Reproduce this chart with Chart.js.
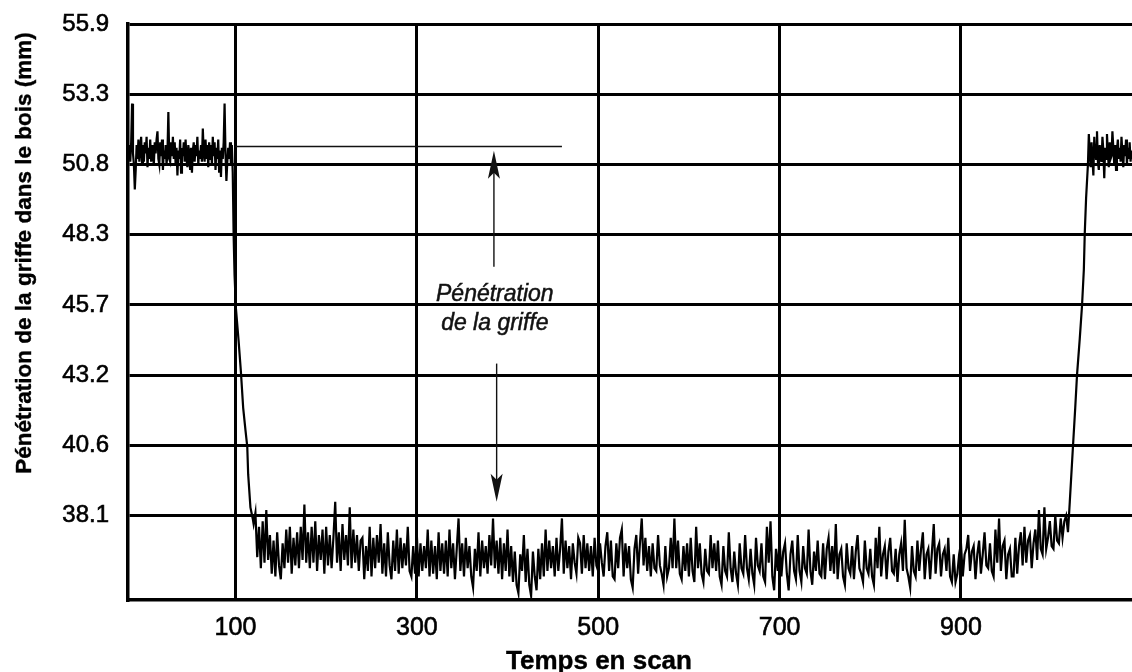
<!DOCTYPE html>
<html>
<head>
<meta charset="utf-8">
<script src="https://cdn.jsdelivr.net/npm/chart.js@4.4.0/dist/chart.umd.min.js"></script>
<style>
  html, body { margin: 0; padding: 0; background: #fff; }
  #wrap { position: relative; width: 1132px; height: 672px; }
</style>
</head>
<body>
<div id="wrap"><canvas id="myChart"></canvas></div>
<script>
'use strict'

// tick labels
const xTicks = [100, 300, 500, 700, 900];
const yTicks = [38.1, 40.64, 43.18, 45.72, 48.26, 50.8, 53.34, 55.88];
const yTickLabels = ['38.1', '40.6', '43.2', '45.7', '48.3', '50.8', '53.3', '55.9'];

// claw up, before entering the wood (scan -18 .. 96, one per scan)
const leftPlateau = [
  51.0, 51.5, 50.9, 51.6, 53.0, 51.2, 50.8, 49.9, 50.6, 51.5,
  51.0, 51.7, 50.9, 51.4, 51.8, 50.8, 51.5, 50.9, 51.6, 51.2,
  51.8, 50.7, 51.4, 51.0, 51.7, 50.9, 51.5, 51.1, 50.8, 51.6,
  51.2, 51.7, 52.0, 51.0, 50.8, 51.6, 51.1, 51.7, 50.6, 51.3,
  51.0, 51.5, 50.8, 51.2, 52.7, 51.0, 50.9, 51.6, 51.1, 51.8,
  51.0, 51.6, 50.8, 51.4, 50.4, 51.3, 51.0, 51.7, 50.5, 51.4,
  51.1, 51.6, 50.9, 51.7, 51.0, 50.7, 51.5, 51.2, 50.6, 51.4,
  50.5, 51.3, 51.6, 50.9, 51.5, 51.1, 51.8, 50.8, 51.3, 51.0,
  51.5, 50.9, 52.1, 51.2, 50.9, 51.7, 51.0, 51.5, 50.7, 51.6,
  51.0, 51.5, 50.8, 51.8, 51.1, 51.6, 50.6, 51.4, 51.0, 51.7,
  50.5, 51.3, 50.35, 51.4, 51.0, 51.6, 53.0, 51.2, 50.2, 50.9,
  51.4, 51.0, 51.6, 50.8, 51.5
];

// the drop
const dropScans  = [97, 98, 99, 100.5, 103.5, 106, 108.5, 111, 113, 114, 116.5, 119];
const dropValues = [50.5, 48.2, 46.8, 45.6, 44.4, 43.3, 42.0, 41.2, 40.6, 39.6, 38.4, 38.0];

// claw in the wood (scan 120 .. 1018, every 2 scans)
const floorValues = [
  37.8, 38.2, 36.6, 37.7, 36.2, 37.9, 36.4, 38.3, 36.5, 37.4, 36.0, 37.2, 35.9, 37.5, 36.3,
  35.8, 37.1, 36.2, 37.6, 36.4, 37.7, 36.0, 37.3, 36.3, 37.5, 36.2, 37.7, 36.5, 38.5, 36.4,
  37.5, 36.2, 37.7, 36.4, 37.9, 36.1, 37.4, 36.5, 37.6, 36.0, 37.7, 36.3, 37.4, 36.2, 37.3,
  38.6, 36.4, 37.5, 36.1, 37.8, 36.5, 37.4, 36.3, 38.4, 36.2, 37.6, 36.4, 37.4, 36.1, 37.2,
  37.3, 35.8, 37.0, 36.1, 37.7, 35.9, 37.3, 36.2, 37.4, 36.4, 37.8, 36.0, 37.1, 35.9, 37.5,
  36.3, 35.8, 37.2, 36.1, 37.6, 36.0, 37.3, 36.2, 37.1, 36.3, 37.7, 36.1, 35.9, 37.0, 36.0,
  37.4, 35.9, 37.1, 36.1, 37.0, 36.2, 37.6, 35.9, 37.2, 36.0, 37.0, 35.8, 37.5, 36.1, 37.1,
  36.0, 37.2, 35.9, 37.6, 36.2, 37.1, 35.8, 36.9, 38.0, 36.1, 37.1, 35.9, 37.3, 36.2, 37.0,
  35.9, 35.5, 36.9, 36.1, 37.5, 35.9, 37.2, 36.2, 37.0, 36.0, 37.4, 36.3, 38.0, 36.2, 37.2,
  36.0, 37.3, 35.8, 37.1, 36.1, 37.6, 35.9, 37.0, 35.7, 36.8, 35.6, 35.3, 36.7, 36.1, 37.4,
  35.7, 36.9, 35.6, 35.2, 36.8, 35.9, 35.4, 36.9, 35.8, 37.1, 35.9, 37.6, 36.1, 37.2, 36.2,
  37.0, 35.9, 37.3, 36.1, 36.9, 38.0, 36.0, 37.2, 36.2, 37.0, 35.8, 37.1, 36.4, 36.0, 37.3,
  37.1, 36.0, 37.4, 36.2, 37.1, 36.1, 37.0, 35.9, 37.3, 36.3, 36.1, 37.1, 36.4, 35.9, 37.0,
  37.5, 36.1, 37.2, 35.9, 35.8, 37.1, 36.2, 37.3, 37.6, 35.9, 37.1, 36.2, 37.0, 35.8, 35.5,
  36.9, 37.4, 36.0, 37.1, 38.0, 36.3, 37.3, 36.1, 37.0, 35.9, 37.1, 36.2, 36.1, 37.4, 36.3,
  36.0, 35.6, 37.0, 35.9, 36.2, 37.3, 36.2, 38.0, 36.2, 37.2, 36.0, 35.8, 37.0, 36.1, 37.1,
  35.9, 37.3, 36.1, 35.7, 37.7, 36.2, 37.1, 36.0, 35.7, 36.9, 36.1, 36.0, 37.4, 36.2, 37.1,
  36.1, 37.2, 35.9, 35.6, 37.0, 36.1, 35.9, 37.5, 36.2, 35.7, 36.8, 36.0, 35.6, 37.1, 36.2,
  36.0, 37.4, 36.2, 35.8, 36.9, 36.0, 35.6, 37.3, 36.3, 36.1, 37.1, 35.9, 35.7, 37.7, 36.4,
  37.9, 35.9, 35.4, 36.9, 36.1, 37.3, 35.9, 36.8, 37.1, 36.0, 35.4, 36.7, 37.2, 36.1, 35.8,
  37.4, 36.1, 35.7, 37.0, 36.2, 36.0, 37.6, 36.1, 35.6, 36.8, 36.1, 37.2, 36.0, 35.9, 37.1,
  35.8, 36.9, 37.3, 36.1, 37.0, 36.0, 37.8, 35.8, 36.7, 36.9, 35.9, 35.6, 37.1, 36.2, 36.0,
  37.0, 35.8, 36.8, 37.4, 36.2, 36.0, 35.7, 37.2, 36.2, 36.0, 36.9, 35.9, 35.6, 37.3, 36.2,
  37.7, 35.9, 36.7, 37.0, 35.8, 36.8, 37.3, 36.1, 36.0, 36.9, 35.7, 36.7, 37.1, 36.1, 37.95,
  36.2, 35.9, 35.5, 37.0, 36.1, 35.9, 37.2, 36.1, 36.9, 37.5, 35.8, 36.7, 36.9, 35.8, 36.8,
  37.8, 36.0, 36.9, 37.1, 35.9, 36.7, 36.9, 36.1, 37.3, 35.9, 35.7, 36.7, 35.7, 36.0, 36.7,
  37.1, 35.9, 36.7, 36.9, 37.4, 36.1, 36.8, 37.0, 35.8, 36.7, 37.2, 36.0, 36.7, 37.5, 36.3,
  36.2, 37.1, 36.1, 35.9, 37.6, 36.4, 38.0, 36.1, 37.0, 37.2, 35.8, 36.7, 36.9, 35.9, 35.9,
  37.3, 36.0, 37.0, 37.5, 36.3, 37.7, 36.4, 37.2, 37.4, 36.2, 37.1, 37.6, 36.5, 38.3, 36.9,
  36.7, 38.4, 36.9, 37.3, 37.9, 37.0, 36.9, 38.1, 37.2, 37.1, 38.0, 37.3, 37.9, 38.1, 37.5
];

// the claw coming back out
const riseScans  = [1020, 1023.5, 1026, 1028, 1031, 1033.5, 1035.5, 1036.5, 1038, 1040];
const riseValues = [38.6, 40.6, 42.0, 43.2, 44.5, 45.7, 47.0, 48.3, 49.6, 50.8];

// claw up again (scan 1041 .. 1089, one per scan)
const rightPlateau = [
  51.9, 51.2, 50.7, 51.6, 51.0, 50.4, 51.8, 51.3, 51.0, 52.0,
  50.9, 50.6, 51.5, 51.1, 50.9, 51.8, 51.3, 50.3, 51.4, 51.0,
  51.9, 51.2, 50.7, 51.6, 51.0, 51.1, 52.0, 51.4, 50.8, 51.5,
  50.6, 51.3, 51.7, 51.0, 51.4, 50.9, 51.8, 51.2, 50.7, 51.5,
  51.1, 51.7, 50.8, 51.4, 51.0, 51.6, 50.9, 51.3, 51.0
];

// annotation, in chart units
const noteLine = { x0: 100, x1: 460, y: 51.45 };
const upArrow = { x: 385, from: 47.1, to: 51.3 };
const downArrow = { x: 388, from: 43.6, to: 38.6 };
const noteText = { x: 386, lines: ['Pénétration', 'de la griffe'], y: [46.1, 45.05] };

const FONT = "'Liberation Sans', Arial, Helvetica, sans-serif";

let points = [];
function pushRun(start, step, vals) {
  for (let i = 0; i < vals.length; i++) {
    points.push({ x: start + i * step, y: vals[i] });
  }
}
function pushPairs(xs, ys) {
  for (let i = 0; i < xs.length; i++) {
    points.push({ x: xs[i], y: ys[i] });
  }
}
pushRun(-18, 1, leftPlateau);
pushPairs(dropScans, dropValues);
pushRun(120, 2, floorValues);
pushPairs(riseScans, riseValues);
pushRun(1041, 1, rightPlateau);

function arrow(ctx, x, y0, y1) {
  const dir = y1 > y0 ? 1 : -1;
  ctx.beginPath();
  ctx.moveTo(x, y0);
  ctx.lineTo(x, y1 - dir * 20);
  ctx.stroke();
  ctx.beginPath();
  ctx.moveTo(x, y1);
  ctx.lineTo(x - 6, y1 - dir * 28);
  ctx.lineTo(x, y1 - dir * 22);
  ctx.lineTo(x + 6, y1 - dir * 28);
  ctx.closePath();
  ctx.fill();
}

// bold-ish text like the scanned original
function heavyText(ctx, txt, x, y, w) {
  ctx.lineWidth = w;
  ctx.strokeText(txt, x, y);
  ctx.fillText(txt, x, y);
}

const extras = {
  id: 'extras',
  afterDatasetsDraw(chart) {
    const ctx = chart.ctx;
    const xs = chart.scales.x;
    const ys = chart.scales.y;
    ctx.save();
    ctx.strokeStyle = '#111';
    ctx.fillStyle = '#111';
    ctx.lineWidth = 1.4;

    ctx.beginPath();
    ctx.moveTo(xs.getPixelForValue(noteLine.x0), ys.getPixelForValue(noteLine.y));
    ctx.lineTo(xs.getPixelForValue(noteLine.x1), ys.getPixelForValue(noteLine.y));
    ctx.stroke();

    arrow(ctx, xs.getPixelForValue(upArrow.x), ys.getPixelForValue(upArrow.from), ys.getPixelForValue(upArrow.to));
    arrow(ctx, xs.getPixelForValue(downArrow.x), ys.getPixelForValue(downArrow.from), ys.getPixelForValue(downArrow.to));

    ctx.font = 'italic 23px ' + FONT;
    ctx.textAlign = 'center';
    ctx.textBaseline = 'middle';
    for (let i = 0; i < noteText.lines.length; i++) {
      heavyText(ctx, noteText.lines[i], xs.getPixelForValue(noteText.x), ys.getPixelForValue(noteText.y[i]), 0.5);
    }

    // axis titles
    ctx.fillStyle = '#000';
    ctx.strokeStyle = '#000';
    ctx.font = 'bold 26px ' + FONT;
    ctx.textBaseline = 'alphabetic';
    heavyText(ctx, 'Temps en scan', 599, 669, 0.4);

    ctx.translate(31, 253);
    ctx.rotate(-Math.PI / 2);
    ctx.font = 'bold 22.5px ' + FONT;
    heavyText(ctx, 'Pénétration de la griffe dans le bois (mm)', 0, 0, 0.4);
    ctx.restore();
  }
};

const ctx = document.getElementById('myChart').getContext('2d');
const myChart = new Chart(ctx, {
  type: 'scatter',
  data: {
    datasets: [{
      data: points,
      showLine: true,
      borderColor: '#000',
      borderWidth: 2.2,
      pointRadius: 0,
      tension: 0
    }]
  },
  options: {
    responsive: true,
    maintainAspectRatio: false,
    animation: false,
    layout: { padding: { top: 24, right: 0, bottom: 0, left: 0 } },
    plugins: {
      legend: { display: false },
      tooltip: { enabled: false }
    },
    scales: {
      x: {
        type: 'linear',
        min: -18.5,
        max: 1088.6,
        afterBuildTicks: (scale) => { scale.ticks = xTicks.map(v => ({ value: v })); },
        afterFit: (scale) => {
          scale.height = 72;
          scale.paddingLeft = 0;
          scale.paddingRight = 0;
        },
        grid: { color: '#000', lineWidth: 3, drawTicks: false },
        border: { display: true, color: '#000', width: 3.5 },
        ticks: {
          color: '#000',
          padding: 13,
          font: { family: FONT, size: 25 },
          textStrokeColor: '#000',
          textStrokeWidth: 0.6,
          maxRotation: 0,
          callback: (v) => String(v)
        }
      },
      y: {
        type: 'linear',
        min: 35.05,
        max: 55.88,
        afterBuildTicks: (scale) => { scale.ticks = yTicks.map(v => ({ value: v })); },
        afterFit: (scale) => {
          scale.width = 128;
          scale.paddingTop = 0;
          scale.paddingBottom = 0;
        },
        grid: { color: '#000', lineWidth: 3, drawTicks: false },
        border: { display: true, color: '#000', width: 3.5 },
        ticks: {
          color: '#000',
          padding: 19,
          font: { family: FONT, size: 24 },
          textStrokeColor: '#000',
          textStrokeWidth: 0.6,
          callback: (v) => {
            const i = yTicks.indexOf(v);
            return i >= 0 ? yTickLabels[i] : '';
          }
        }
      }
    }
  },
  plugins: [extras]
});
</script>
</body>
</html>
